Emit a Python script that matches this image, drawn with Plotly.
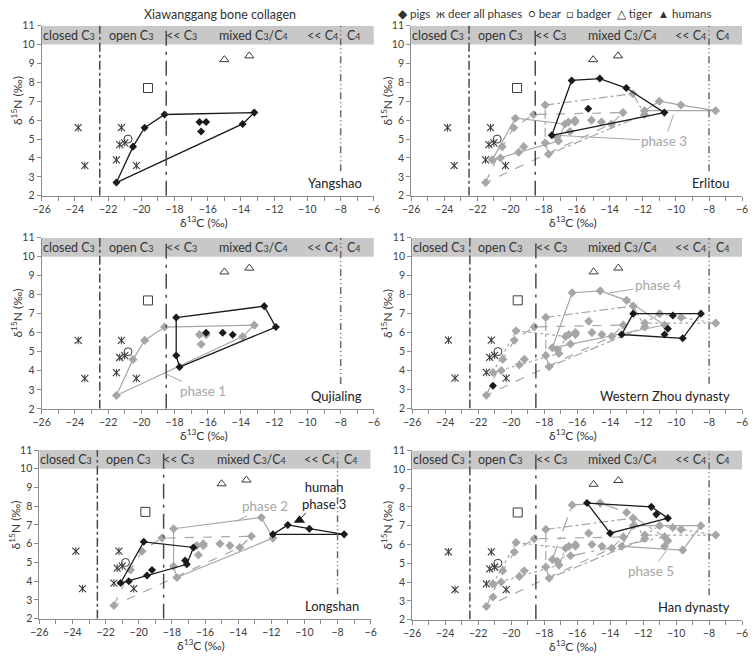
import plotly.graph_objects as go

# ---------------- data ----------------
panel_names = ["Yangshao", "Qujialing", "Longshan", "Erlitou",
               "Western Zhou dynasty", "Han dynasty"]

deer_x = [-23.8, -23.4, -21.2, -21.3, -21.0, -21.5, -20.3]
deer_y = [5.6, 3.6, 5.6, 4.7, 4.8, 3.9, 3.6]
bear_x = [-20.8]
bear_y = [5.0]
badger_x = [-19.6]
badger_y = [7.7]
tiger_x = [-15.0, -13.5]
tiger_y = [9.2, 9.4]
human_x = [-10.3]
human_y = [7.25]

# pigs per phase (1 Yangshao ... 6 Han)
p1_x = [-21.5, -20.5, -19.8, -18.6, -16.5, -16.1, -16.4, -13.9, -13.2]
p1_y = [2.7, 4.6, 5.6, 6.3, 5.9, 5.9, 5.4, 5.8, 6.4]
p1_hull = [0, 1, 2, 3, 8, 7, 0]

p2_x = [-17.9, -17.9, -17.7, -16.1, -15.1, -14.5, -12.6, -11.9]
p2_y = [6.8, 4.8, 4.2, 6.0, 6.0, 5.9, 7.4, 6.3]
p2_hull = [0, 6, 7, 2, 1, 0]

p3_x = [-21.1, -20.6, -19.7, -19.5, -19.2, -17.2, -17.1, -16.7, -11.9, -11.0, -9.7, -7.6]
p3_y = [3.9, 4.0, 6.1, 4.3, 4.6, 5.1, 4.9, 5.8, 6.5, 7.0, 6.8, 6.5]
p3_hull = [0, 2, 7, 6, 0, None, 8, 9, 10, 11, 8]

p4_x = [-17.5, -16.3, -14.6, -13.0, -10.7, -15.3]
p4_y = [5.2, 8.1, 8.2, 7.7, 6.4, 6.6]
p4_hull = [0, 1, 2, 3, 4, 0]

p5_x = [-21.1, -13.3, -12.6, -10.2, -8.5, -10.5, -10.7, -9.6]
p5_y = [3.2, 5.9, 7.0, 6.9, 7.0, 6.2, 5.9, 5.7]
p5_hull = [1, 2, 4, 7, 1]

p6_x = [-15.4, -14.0, -11.5, -11.2, -10.5]
p6_y = [8.2, 6.6, 8.0, 7.6, 7.4]
p6_hull = [0, 2, 4, 1, 0]

x_ticks = [-26, -24, -22, -20, -18, -16, -14, -12, -10, -8, -6]
y_ticks = [2, 3, 4, 5, 6, 7, 8, 9, 10, 11]
zone_bounds = [-22.5, -18.5, -8]

pigs = [(p1_x, p1_y, p1_hull), (p2_x, p2_y, p2_hull), (p3_x, p3_y, p3_hull),
        (p4_x, p4_y, p4_hull), (p5_x, p5_y, p5_hull), (p6_x, p6_y, p6_hull)]

# ---------------- layout helpers ----------------
W, H = 754, 659
# pixel boxes (left, right, top, bottom) per panel
boxes = [(33.3, 372.3, 20, 193.3), (33.3, 372.3, 236, 410.3), (31, 369, 452.3, 624),
         (410.3, 748, 20, 193.3), (411.3, 748, 236, 410), (411.3, 748, 452.7, 625)]

GREY = "#a6a6a6"
BLACK = "#1a1a1a"
MK = "#3a3a3a"
FONT = "Lato, 'Open Sans', sans-serif"
old_dash = {0: "dash", 1: "dashdot", 2: "dot", 3: "longdashdot"}


def hull_xy(xs, ys, hull):
    hx, hy = [], []
    for i in hull:
        if i is None:
            hx.append(None)
            hy.append(None)
        else:
            hx.append(xs[i])
            hy.append(ys[i])
    return hx, hy


fig = go.Figure()
shapes = []
annotations = []
layout_axes = {}

sub = lambda s: "<span style='font-size:9px'>%s</span>" % s
band_labels = [("closed C" + sub("3"), -24.38), ("open C" + sub("3"), -20.65),
               ("<< C" + sub("3"), -17.58), ("mixed C" + sub("3") + "/C" + sub("4"), -13.22),
               ("<< C" + sub("4"), -9.1), ("C" + sub("4"), -7.17)]

for k in range(6):
    sfx = "" if k == 0 else str(k + 1)
    xr, yr = "x" + sfx, "y" + sfx
    common = dict(xaxis=xr, yaxis=yr, showlegend=False, hoverinfo="skip")

    # earlier phases in grey
    for j in range(k):
        xs, ys, hull = pigs[j]
        hx, hy = hull_xy(xs, ys, hull)
        dash = "solid" if j == k - 1 else old_dash[j]
        fig.add_trace(go.Scatter(x=hx, y=hy, mode="lines",
                                 line=dict(color=GREY, width=1.2, dash=dash), **common))
    for j in range(k):
        xs, ys, _ = pigs[j]
        fig.add_trace(go.Scatter(x=xs, y=ys, mode="markers",
                                 marker=dict(symbol="diamond", size=7, color=GREY), **common))

    # current phase in black
    xs, ys, hull = pigs[k]
    hx, hy = hull_xy(xs, ys, hull)
    fig.add_trace(go.Scatter(x=hx, y=hy, mode="lines",
                             line=dict(color=BLACK, width=1.3), **common))
    fig.add_trace(go.Scatter(x=xs, y=ys, mode="markers",
                             marker=dict(symbol="diamond", size=6.2, color=BLACK), **common))

    # other animals
    fig.add_trace(go.Scatter(x=deer_x, y=deer_y, mode="markers",
                             marker=dict(symbol="x-thin-open", size=7, color=MK,
                                         line=dict(color=MK, width=1.1)), **common))
    fig.add_trace(go.Scatter(x=deer_x, y=deer_y, mode="markers",
                             marker=dict(symbol="line-ns-open", size=5.5, color=MK,
                                         line=dict(color=MK, width=1)), **common))
    fig.add_trace(go.Scatter(x=bear_x, y=bear_y, mode="markers",
                             marker=dict(symbol="circle-open", size=8, color=MK,
                                         line=dict(color=MK, width=1)), **common))
    fig.add_trace(go.Scatter(x=badger_x, y=badger_y, mode="markers",
                             marker=dict(symbol="square-open", size=9, color=MK,
                                         line=dict(color=MK, width=1)), **common))
    fig.add_trace(go.Scatter(x=tiger_x, y=tiger_y, mode="markers",
                             marker=dict(symbol="triangle-up-open", size=8, color=MK,
                                         line=dict(color=MK, width=1)), **common))
    if k == 2:
        fig.add_trace(go.Scatter(x=human_x, y=human_y, mode="markers",
                                 marker=dict(symbol="triangle-up", size=10, color=BLACK),
                                 **common))

    l, r, t, b = boxes[k]
    xa = dict(domain=[l / W, r / W], range=[-26, -6], anchor=yr,
              showline=True, linecolor="#8c8c8c", linewidth=1, mirror=False,
              ticks="outside", ticklen=4, tickcolor="#8c8c8c",
              tickvals=x_ticks, showgrid=False, zeroline=False,
              minor=dict(dtick=1, ticks="outside", ticklen=4, tickcolor="#8c8c8c"),
              tickfont=dict(family=FONT, size=10.5, color="#404040"))
    ya = dict(domain=[1 - b / H, 1 - t / H], range=[2, 11], anchor=xr,
              showline=True, linecolor="#8c8c8c", linewidth=1,
              ticks="outside", ticklen=4, tickcolor="#8c8c8c",
              tickvals=y_ticks, showgrid=False, zeroline=False,
              tickfont=dict(family=FONT, size=10.5, color="#404040"))
    layout_axes["xaxis" + sfx] = xa
    layout_axes["yaxis" + sfx] = ya

    # axis titles
    annotations.append(dict(xref="paper", yref="paper", x=((l + r) / 2 - 4) / W,
                            y=1 - min(b + 27, 652) / H, yanchor="middle", xanchor="center",
                            text="δ<sup>13</sup>C (‰)", showarrow=False,
                            font=dict(family=FONT, size=12, color="#333333")))
    annotations.append(dict(xref="paper", yref="paper", x=(l - 25) / W,
                            y=1 - ((t + b) / 2 - 10) / H, yanchor="middle", xanchor="center",
                            text="δ<sup>15</sup>N (‰)", textangle=-90, showarrow=False,
                            font=dict(family=FONT, size=12, color="#333333")))

    # grey band and diet-zone boundaries
    shapes.append(dict(type="rect", xref=xr, yref=yr, x0=-26, x1=-6, y0=10, y1=11,
                       fillcolor="#c8c8c8", line=dict(width=0), layer="below"))
    shapes.append(dict(type="line", xref=xr, yref=yr, x0=zone_bounds[0], x1=zone_bounds[0],
                       y0=2, y1=11, line=dict(color="#4a4a4a", width=1.5, dash="dashdot")))
    shapes.append(dict(type="line", xref=xr, yref=yr, x0=zone_bounds[1], x1=zone_bounds[1],
                       y0=2, y1=11, line=dict(color="#4a4a4a", width=1.5, dash="longdashdot")))
    shapes.append(dict(type="line", xref=xr, yref=yr, x0=zone_bounds[2], x1=zone_bounds[2],
                       y0=3.3, y1=11, line=dict(color="#6a6a6a", width=1.5,
                                                dash="7px,3px,1px,3px,1px,3px")))
    for txt, xc in band_labels:
        annotations.append(dict(xref=xr, yref=yr, x=xc, y=10.5, text=txt, showarrow=False,
                                font=dict(family=FONT, size=12.5, color="#333333")))
    annotations.append(dict(xref=xr, yref=yr, x=-6.6, y=2.65, xanchor="right",
                            text=panel_names[k], showarrow=False,
                            font=dict(family=FONT, size=13, color="#222222")))


# phase labels with leader lines
def leader(sfx, tx, ty, px, py, text, color=GREY, size=13.5):
    annotations.append(dict(xref="x" + sfx, yref="y" + sfx, axref="x" + sfx, ayref="y" + sfx,
                            x=px, y=py, ax=tx, ay=ty, text=text, showarrow=True,
                            arrowhead=0, arrowwidth=1, arrowcolor=color,
                            standoff=2,
                            font=dict(family=FONT, size=size, color=color)))


leader("2", -16.3, 2.95, -18.7, 3.9, "phase 1")
leader("3", -12.4, 8.0, -14.2, 7.15, "phase 2")
leader("3", -8.8, 8.6, -10.3, 7.3, "human<br>phase 3", color=BLACK, size=13)
leader("4", -10.7, 4.9, -17.3, 5.2, "phase 3")
leader("4", -10.7, 4.9, -10.1, 6.4, "phase 3")
annotations[-1]["font"]["color"] = "rgba(0,0,0,0)"
annotations[-1]["arrowcolor"] = GREY
leader("5", -11.1, 8.5, -14.2, 8.07, "phase 4")
leader("6", -11.5, 4.6, -10.5, 5.77, "phase 5")

# title and legend
annotations.append(dict(xref="paper", yref="paper", x=215 / W, y=1, xanchor="center",
                        yanchor="top", yshift=1,
                        text="Xiawanggang bone collagen", showarrow=False,
                        font=dict(family=FONT, size=12.5, color="#333333")))
annotations.append(dict(xref="paper", yref="paper", x=557 / W, y=1, xanchor="center",
                        yanchor="top", yshift=1,
                        text="◆ pigs  ж deer all phases  ○ bear  □ badger  △ tiger  ▲ humans",
                        showarrow=False, font=dict(family=FONT, size=11.5, color="#333333")))

fig.update_layout(width=W, height=H, margin=dict(l=0, r=0, t=0, b=0),
                  paper_bgcolor="white", plot_bgcolor="white",
                  shapes=shapes, annotations=annotations, showlegend=False,
                  **layout_axes)

fig.write_html("out.html",
               config={"displayModeBar": False},
               post_script="document.body.style.margin='0';"
                           "document.body.style.overflow='hidden';")
